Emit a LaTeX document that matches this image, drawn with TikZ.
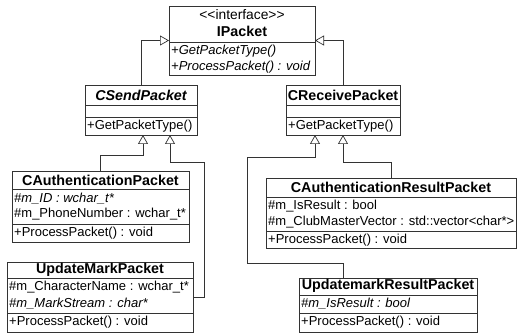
\documentclass[tikz,border=0pt]{standalone}
\usepackage{fontspec}
\setmainfont{Liberation Sans}
\usetikzlibrary{arrows.meta,calc}
\begin{document}
\begin{tikzpicture}[x=1pt,y=-1pt,
  box/.style={draw=black!80, line width=0.7pt, inner sep=0pt, outer sep=0pt},
  ttl/.style={font=\fontsize{14.3}{16}\selectfont\bfseries, inner sep=0pt},
  mem/.style={font=\fontsize{13}{15}\selectfont, anchor=west, inner sep=0pt},
  memi/.style={mem, font=\fontsize{13}{15}\selectfont\itshape},
  sep/.style={draw=black!80, line width=0.7pt},
  gen/.style={draw=black!80, line width=0.7pt, -{Triangle[open,length=9pt,width=10pt]}}
]
\useasboundingbox (0,0) rectangle (517,334);

% IPacket
\node[box, minimum width=146pt, minimum height=69pt] (ipacket) at (242,40.5) {};
\node[mem, anchor=center, font=\fontsize{13.8}{15}\selectfont] (ipst) at (242,15) {<\kern0pt<interface>\kern0pt>};
\node[ttl] (ipname) at (242,31) {IPacket};
\draw[sep] (ipacket.west |- 0,42) -- (ipacket.east |- 0,42);
\node[memi] (ipop1) at (171,51) {+GetPacketType()};
\node[memi] (ipop2) at (171,67) {+ProcessPacket() : void};

% CSendPacket
\node[box, minimum width=112pt, minimum height=50pt] (csend) at (141,110) {};
\node[ttl, font=\fontsize{14.3}{16}\selectfont\bfseries\itshape] (csname) at (141,95) {CSendPacket};
\draw[sep] (csend.west |- 0,105) -- (csend.east |- 0,105);
\draw[sep] (csend.west |- 0,117) -- (csend.east |- 0,117);
\node[mem] (csop1) at (87,126) {+GetPacketType()};

% CReceivePacket
\node[box, minimum width=114pt, minimum height=50pt] (crecv) at (343,110) {};
\node[ttl] (crname) at (343,95) {CReceivePacket};
\draw[sep] (crecv.west |- 0,105) -- (crecv.east |- 0,105);
\draw[sep] (crecv.west |- 0,117) -- (crecv.east |- 0,117);
\node[mem] (crop1) at (288,126) {+GetPacketType()};

% CAuthenticationPacket
\node[box, minimum width=177pt, minimum height=71pt] (cauth) at (100.5,206.5) {};
\node[ttl] (caname) at (100.5,180) {CAuthenticationPacket};
\draw[sep] (cauth.west |- 0,189) -- (cauth.east |- 0,189);
\node[memi] (caat1) at (14,199) {\#m\_ID : wchar\_t*};
\node[mem] (caat2) at (14,214) {\#m\_PhoneNumber : wchar\_t*};
\draw[sep] (cauth.west |- 0,224) -- (cauth.east |- 0,224);
\node[mem] (caop1) at (14,233) {+ProcessPacket() : void};

% UpdateMarkPacket
\node[box, minimum width=186pt, minimum height=70pt] (umark) at (100,297) {};
\node[ttl] (umname) at (100,270) {UpdateMarkPacket};
\draw[sep] (umark.west |- 0,278) -- (umark.east |- 0,278);
\node[mem] (umat1) at (9,287) {\#m\_CharacterName : wchar\_t*};
\node[memi] (umat2) at (9,304) {\#m\_MarkStream : char*};
\draw[sep] (umark.west |- 0,313) -- (umark.east |- 0,313);
\node[mem] (umop1) at (9,322) {+ProcessPacket() : void};

% CAuthenticationResultPacket
\node[box, minimum width=250pt, minimum height=70pt] (cares) at (391,213) {};
\node[ttl] (crsname) at (391,187) {CAuthenticationResultPacket};
\draw[sep] (cares.west |- 0,197) -- (cares.east |- 0,197);
\node[mem] (crsat1) at (268,206) {\#m\_IsResult : bool};
\node[mem] (crsat2) at (268,222) {\#m\_ClubMasterVector : std::vector<char*>};
\draw[sep] (cares.west |- 0,231) -- (cares.east |- 0,231);
\node[mem] (crsop1) at (268,240) {+ProcessPacket() : void};

% UpdatemarkResultPacket
\node[box, minimum width=178pt, minimum height=54pt] (umres) at (388,305) {};
\node[ttl] (urname) at (388,286) {UpdatemarkResultPacket};
\draw[sep] (umres.west |- 0,295) -- (umres.east |- 0,295);
\node[memi] (urat1) at (301,304) {\#m\_IsResult : bool};
\draw[sep] (umres.west |- 0,313) -- (umres.east |- 0,313);
\node[mem] (urop1) at (301,322) {+ProcessPacket() : void};

% connectors
\draw[gen] (csend.north) |- (ipacket.west);
\draw[gen] (crecv.north) |- (ipacket.east);
\draw[gen] (cauth.north) -- ++(0,-16) -| ([xshift=2pt]csend.south);
\draw[gen] (umark.east) -- ++(11,0) -- ++(0,-135) -| ([xshift=29pt]csend.south);
\draw[gen] (cares.north) -- ++(0,-16) -| (crecv.south);
\draw[gen] ([xshift=-45pt]umres.north) -- ++(0,-15) -- ++(-96,0) -- ++(0,-106) -| ([xshift=-28pt]crecv.south);
\end{tikzpicture}
\end{document}
